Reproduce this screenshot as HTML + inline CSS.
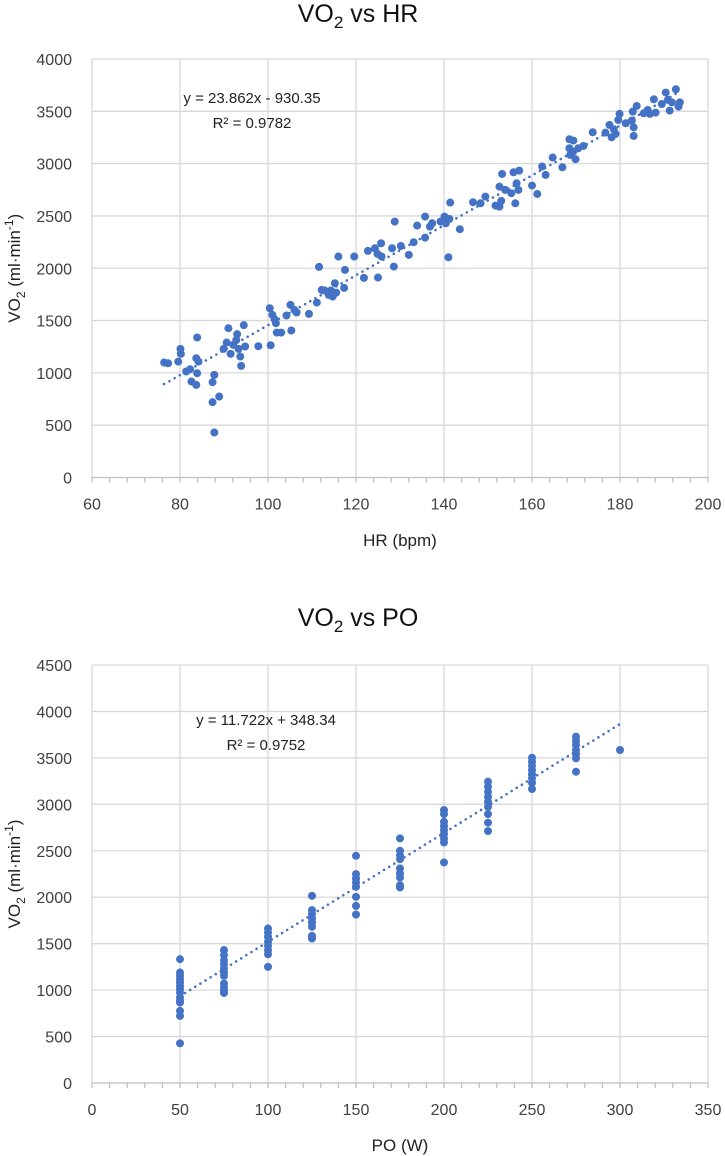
<!DOCTYPE html>
<html><head><meta charset="utf-8"><title>VO2 charts</title>
<style>
html,body{margin:0;padding:0;background:#fff;}
svg{display:block;font-family:"Liberation Sans",sans-serif;}
</style></head>
<body>
<svg id="root" width="725" height="1156" viewBox="0 0 725 1156" xmlns="http://www.w3.org/2000/svg"></svg>
<script>
// ---- Chart 1 data: VO2 vs HR ----
const hrTicks = [60, 80, 100, 120, 140, 160, 180, 200];
const vo2HrTicks = [0, 500, 1000, 1500, 2000, 2500, 3000, 3500, 4000];
const hrValues = [76.4,77.3,79.6,80.1,80.2,81.4,82.3,82.6,83.7,83.9,83.7,83.9,84.2,87.4,87.8,87.4,88.9,87.8,89.9,90.6,91,91.5,92.1,92.8,93,93.3,93.7,93.9,94.5,94.8,97.8,100.4,100.6,101,101.5,101.8,102,103,104.2,105.1,105.3,106,106.5,109.3,111.1,111.6,112.2,112.9,113.8,114.3,114.7,115.2,115.5,116,117.3,117.5,119.6,121.8,122.7,124.3,124.9,125,125.7,125.8,128.2,128.6,128.8,130.2,132,133.1,133.9,135.7,135.7,136.8,137.3,139.2,140.1,140.4,141.2,141.4,141,143.6,146.6,148.3,149.4,151.7,152.6,153,152.6,153.2,153.9,155.3,155.8,156.2,156.5,156.9,157.1,160,161.2,162.3,163.1,164.7,166.9,168.5,169.4,168.5,168.7,169.4,169.9,170.5,171.7,173.8,176.7,177.6,178.1,178.6,179,179.9,179.6,181.3,182.7,183.1,183.1,182.9,183.8,185.4,186.3,186.8,187.7,188.1,189.5,190.4,190.9,191.3,191.8,192.7,193.3,193.6];
const vo2HrValues = [1099,1092,1108,1229,1182,1013,1035,917,885,997,1140,1338,1108,911,981,720,774,430,1229,1290,1427,1182,1268,1315,1370,1229,1156,1067,1456,1252,1255,1618,1264,1554,1513,1475,1385,1385,1548,1650,1405,1602,1577,1564,1672,2013,1793,1787,1745,1787,1729,1857,1767,2112,1812,1984,2112,1908,2166,2191,2137,1911,2239,2112,2191,2016,2446,2213,2128,2249,2408,2494,2293,2398,2430,2446,2494,2430,2472,2628,2105,2373,2631,2621,2685,2599,2589,2644,2780,2901,2749,2717,2917,2621,2812,2749,2933,2790,2710,2972,2892,3058,2965,3233,3220,3147,3083,3115,3042,3147,3169,3300,3296,3370,3252,3328,3284,3475,3417,3386,3411,3347,3265,3497,3551,3481,3513,3475,3615,3488,3570,3679,3609,3507,3586,3711,3545,3586];
const hrTrend = [23.862, -930.35];
const hrTrendRange = [76.4, 192.7];

// ---- Chart 2 data: VO2 vs PO ----
const poTicks = [0, 50, 100, 150, 200, 250, 300, 350];
const vo2PoTicks = [0, 500, 1000, 1500, 2000, 2500, 3000, 3500, 4000, 4500];
const poValues = [50,50,50,50,50,50,50,50,50,50,50,50,50,50,
 75,75,75,75,75,75,75,75,75,75,75,
 100,100,100,100,100,100,100,100,
 125,125,125,125,125,125,125,125,
 150,150,150,150,150,150,150,150,
 175,175,175,175,175,175,175,175,175,
 200,200,200,200,200,200,200,200,200,
 225,225,225,225,225,225,225,225,225,
 250,250,250,250,250,250,250,250,
 275,275,275,275,275,275,275,
 300];
const vo2PoValues = [1333,1189,1153,1117,1081,1045,1009,973,920,884,866,776,722,427,
 1430,1376,1322,1279,1232,1189,1153,1070,1027,991,970,
 1663,1620,1573,1519,1476,1430,1386,1250,
 2015,1861,1818,1771,1728,1681,1584,1555,
 2446,2249,2202,2159,2112,2004,1907,1814,
 2633,2500,2453,2410,2310,2256,2213,2130,2105,
 2938,2895,2812,2766,2723,2680,2633,2590,2374,
 3244,3190,3136,3082,3028,2974,2895,2802,2712,
 3502,3459,3416,3369,3323,3279,3233,3165,
 3728,3685,3639,3585,3542,3495,3351,
 3585];
const poTrend = [11.722, 348.34];
const poTrendRange = [50, 300];

const NS = "http://www.w3.org/2000/svg";
const root = document.getElementById('root');
function mk(tag, attrs, parent) {
  const e = document.createElementNS(NS, tag);
  for (const k in attrs) e.setAttribute(k, attrs[k]);
  (parent || root).appendChild(e);
  return e;
}

function drawChart(cfg) {
  const g = mk('g', {});
  
  
  const L = 92, R = 708, T = cfg.top, B = cfg.bottom;
  const xs = v => L + (v - cfg.xTicks[0]) / (cfg.xTicks[cfg.xTicks.length-1] - cfg.xTicks[0]) * (R - L);
  const ys = v => B - (v - cfg.yTicks[0]) / (cfg.yTicks[cfg.yTicks.length-1] - cfg.yTicks[0]) * (B - T);

  // gridlines
  cfg.yTicks.forEach(t => {
    if (t === cfg.yTicks[0]) return;
    const l = mk('line', {x1: L, x2: R, y1: ys(t), y2: ys(t), stroke: '#d9d9d9', 'stroke-width': 1.3}, g);
    
    
  });
  cfg.xTicks.forEach(t => {
    const l = mk('line', {x1: xs(t), x2: xs(t), y1: T, y2: B, stroke: '#d9d9d9', 'stroke-width': 1.3}, g);
    
    
  });
  // x axis line
  const ax = mk('line', {x1: L, x2: R, y1: B, y2: B, stroke: '#bfbfbf', 'stroke-width': 1.3}, g);
  
  
  // minor/major ticks
  const step = (cfg.xTicks[1] - cfg.xTicks[0]) / 5;
  for (let v = cfg.xTicks[0]; v <= cfg.xTicks[cfg.xTicks.length-1] + 1e-9; v += step) {
    const tk = mk('line', {x1: xs(v), x2: xs(v), y1: B, y2: B + 5, stroke: '#bfbfbf', 'stroke-width': 1.3}, g);
    
    
  }
  // tick labels
  cfg.xTicks.forEach(t => {
    const tx = mk('text', {x: xs(t), y: B + 32, 'text-anchor': 'middle', 'font-size': 16, fill: '#404040'}, g);
    tx.textContent = t;
    
    
  });
  cfg.yTicks.forEach(t => {
    const tx = mk('text', {x: 72, y: ys(t) + 6, 'text-anchor': 'end', 'font-size': 16, fill: '#404040'}, g);
    tx.textContent = t;
    
    
  });
  // title
  const tt = mk('text', {x: 358, y: cfg.titleY, 'text-anchor': 'middle', 'font-size': 25, fill: '#111'}, g);
  
  
  tt.appendChild(document.createTextNode('VO'));
  const sub = mk('tspan', {dy: 6, 'font-size': 17}, tt); sub.textContent = '2';
  const rest = mk('tspan', {dy: -6}, tt); rest.textContent = ' vs ' + cfg.titleSuffix;
  // x axis title
  const xt = mk('text', {x: 400, y: cfg.xTitleY, 'text-anchor': 'middle', 'font-size': 17, fill: '#222'}, g);
  xt.textContent = cfg.xTitle;
  
  
  // y axis title
  const yc = (T + B) / 2;
  const yt = mk('text', {x: 0, y: 0, 'text-anchor': 'middle', 'font-size': 17, fill: '#222', transform: 'translate(20,' + (yc + cfg.yTitleShift) + ') rotate(-90)'}, g);
  
  
  yt.appendChild(document.createTextNode('VO'));
  const s2 = mk('tspan', {dy: 5, 'font-size': 12}, yt); s2.textContent = '2';
  const s3 = mk('tspan', {dy: -5}, yt); s3.textContent = ' (ml·min';
  const s4 = mk('tspan', {dy: -7, 'font-size': 12}, yt); s4.textContent = '-1';
  const s5 = mk('tspan', {dy: 7}, yt); s5.textContent = ')';
  // points
  cfg.xs.forEach((xv, i) => {
    const c = mk('circle', {cx: xs(xv), cy: ys(cfg.ys[i]), r: 4, fill: '#4472c4'}, g);
    
    
  });
  // trendline
  const [m, b] = cfg.trend;
  const [x0, x1] = cfg.trendRange;
  const tl = mk('line', {x1: xs(x0), y1: ys(m*x0+b), x2: xs(x1), y2: ys(m*x1+b), stroke: '#4472c4', 'stroke-width': 2.6, 'stroke-dasharray': '0 6', 'stroke-linecap': 'round'}, g);
  
  
  // equation
  const eq = mk('text', {x: cfg.eqX, y: cfg.eqY, 'text-anchor': 'middle', 'font-size': 15, fill: '#222'}, g);
  eq.textContent = cfg.eq;
  
  
  const r2 = mk('text', {x: cfg.eqX, y: cfg.eqY + 25, 'text-anchor': 'middle', 'font-size': 15, fill: '#222'}, g);
  r2.textContent = cfg.r2;
  
  
}

drawChart({name: 'vo2-vs-hr-chart', top: 59, bottom: 477.5, xTicks: hrTicks, yTicks: vo2HrTicks,
  xs: hrValues, ys: vo2HrValues, trend: hrTrend, trendRange: hrTrendRange,
  titleY: 22, titleSuffix: 'HR', xTitle: 'HR (bpm)', xTitleY: 546, yTitleShift: 0,
  eq: 'y = 23.862x - 930.35', r2: 'R² = 0.9782', eqX: 252, eqY: 103});
drawChart({name: 'vo2-vs-po-chart', top: 665, bottom: 1083, xTicks: poTicks, yTicks: vo2PoTicks,
  xs: poValues, ys: vo2PoValues, trend: poTrend, trendRange: poTrendRange,
  titleY: 626, titleSuffix: 'PO', xTitle: 'PO (W)', xTitleY: 1151, yTitleShift: 0,
  eq: 'y = 11.722x + 348.34', r2: 'R² = 0.9752', eqX: 266, eqY: 725});
</script>
</body></html>
